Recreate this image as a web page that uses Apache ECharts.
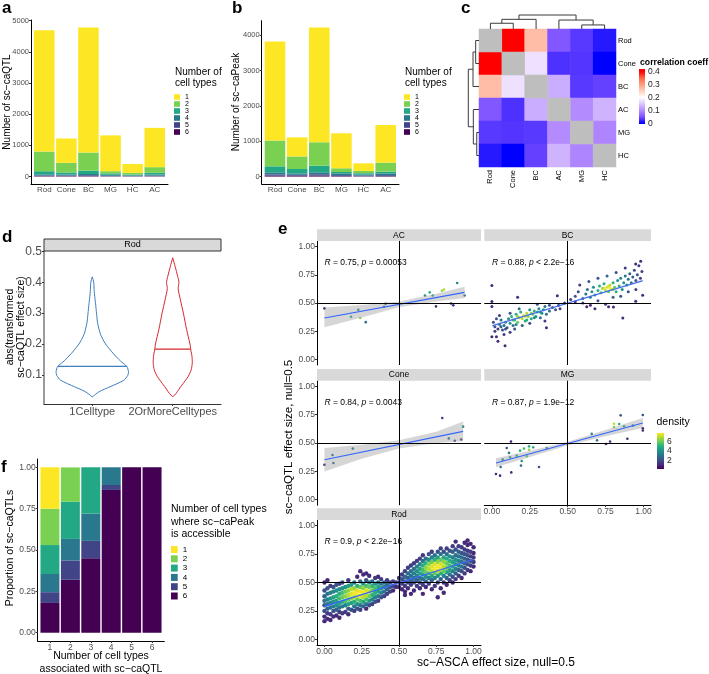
<!DOCTYPE html>
<html><head><meta charset="utf-8"><title>chart</title>
<script src="https://cdn.jsdelivr.net/npm/echarts@6.0.0/dist/echarts.min.js"></script>
<style>html,body{margin:0;padding:0;background:#fff;}#chart{width:709px;height:674px;}</style>
</head><body><div id="chart"></div>
<script>
// ================= DATA =================
const cellTypesAB = ['Rod','Cone','BC','MG','HC','AC'];
const levels = ['1','2','3','4','5','6'];
const levelColors = ['#FDE725','#7AD151','#22A884','#2A788E','#414487','#440154'];
const caqtl1 = [3890, 780, 4010, 1150, 285, 1260];
const caqtl2 = [630, 310, 580, 70, 55, 180];
const caqtl3 = [100, 65, 110, 45, 25, 60];
const caqtl4 = [35, 30, 40, 30, 20, 30];
const caqtl5 = [20, 20, 25, 15, 10, 20];
const caqtl6 = [15, 15, 15, 10, 8, 10];
const capeak1 = [2800, 540, 3245, 990, 215, 1065];
const capeak2 = [730, 355, 660, 105, 65, 255];
const capeak3 = [170, 125, 190, 40, 35, 50];
const capeak4 = [60, 40, 55, 50, 30, 50];
const capeak5 = [30, 25, 35, 25, 20, 25];
const capeak6 = [30, 25, 30, 15, 10, 15];
const abTicksA = [0, 1000, 2000, 3000, 4000, 5000];
const abTicksB = [0, 1000, 2000, 3000, 4000];

const heatCols = ['Rod','Cone','BC','AC','MG','HC'];
const heatRows = ['Rod','Cone','BC','AC','MG','HC'];
const corrRod  = [null, 0.40, 0.27, 0.055, 0.035, 0.015];
const corrCone = [0.40, null, 0.175, 0.03, 0.033, 0.0];
const corrBC   = [0.27, 0.175, null, 0.13, 0.035, 0.04];
const corrAC   = [0.055, 0.03, 0.13, null, 0.10, 0.135];
const corrMG   = [0.035, 0.033, 0.035, 0.10, null, 0.095];
const corrHC   = [0.015, 0.0, 0.04, 0.135, 0.095, null];
const corrColors = ['#0000FF','#7E51FF','#B38BFF','#DBC4FF','#FFFFFF','#FFD0BF','#FF9E82','#FF6846','#FF0000'];
const naColor = '#BEBEBE';
const corrTicks = [0, 0.1, 0.2, 0.3, 0.4];
const colMerges = [[0,1,0.41],[-1,2,0.69],[4,5,0.29],[3,-3,0.64],[-2,-4,1.0]];
const rowMerges = [[0,1,0.31],[-1,2,0.56],[4,5,0.21],[3,-3,0.53],[-2,-4,1.0]];

const violinNames = ['1Celltype','2OrMoreCelltypes'];
const violin1 = [[0.028,0],[0.045,7],[0.061,18],[0.082,32],[0.098,36],[0.11,36.7],[0.127,35],[0.145,28.5],[0.17,21],[0.2,13.5],[0.23,8.5],[0.267,5.5],[0.3,4.3],[0.32,3.7],[0.34,3],[0.37,2],[0.4,1.5],[0.418,0]];
const violin2 = [[0.028,0],[0.04,3.5],[0.062,8.3],[0.08,12.5],[0.095,15.8],[0.116,18.7],[0.138,19.8],[0.16,19.5],[0.181,18.3],[0.2,17.5],[0.248,14],[0.3,10.8],[0.343,7.8],[0.38,5.5],[0.4,6.3],[0.42,5],[0.451,2.5],[0.48,0]];
const violinMedians = [0.127, 0.183];
const violinColors = ['#3D7EBD','#D5282C'];
const dTicks = [0.1, 0.2, 0.3, 0.4, 0.5];

const acPoints = [[0.0,0.452,1],[0.178,0.378,5],[0.227,0.44,4],[0.24,0.367,6.5],[0.277,0.33,3],[0.40,0.467,3.5],[0.41,0.494,1.5],[0.674,0.567,4],[0.706,0.594,5],[0.726,0.567,4.5],[0.748,0.47,1],[0.788,0.609,6.5],[0.802,0.62,7],[0.849,0.496,1],[0.864,0.479,1],[0.89,0.677,3.5],[0.94,0.567,3]];
const conePoints = [[0.0,0.308,1],[0.054,0.394,3],[0.06,0.323,3],[0.19,0.45,3],[0.79,0.72,1.5],[0.834,0.54,3],[0.874,0.52,2],[0.917,0.53,1.5],[0.93,0.644,4]];
const mgPoints = [[0.027,0.226,1],[0.054,0.211,1],[0.058,0.288,3],[0.071,0.353,3.5],[0.098,0.456,2],[0.113,0.412,3.5],[0.12,0.373,4.5],[0.126,0.512,1],[0.128,0.24,1],[0.164,0.388,5],[0.186,0.432,5],[0.197,0.341,4],[0.192,0.3,3],[0.212,0.45,5.5],[0.23,0.382,6],[0.245,0.47,5],[0.245,0.44,6.5],[0.273,0.461,5],[0.311,0.288,2],[0.362,0.456,4],[0.659,0.58,3.5],[0.694,0.523,3],[0.753,0.491,1],[0.78,0.512,1.5],[0.806,0.67,7],[0.806,0.64,6.5],[0.84,0.668,5],[0.85,0.744,2],[0.872,0.647,5],[0.894,0.537,1],[0.93,0.653,4],[0.996,0.747,2],[0.996,0.629,1],[0.996,0.61,1]];
const bcPoints = [[0.01,0.33,2],[0.02,0.29,2],[0.03,0.36,2],[0.04,0.27,1.5],[0.05,0.31,3],[0.06,0.35,3],[0.07,0.26,2],[0.08,0.30,3],[0.09,0.33,4],[0.10,0.28,2],[0.11,0.36,4],[0.12,0.32,4],[0.13,0.38,5],[0.14,0.30,3],[0.15,0.35,5],[0.16,0.40,5],[0.17,0.33,6],[0.18,0.37,7],[0.19,0.42,5],[0.20,0.36,7],[0.21,0.39,7.5],[0.22,0.34,5],[0.23,0.41,7],[0.24,0.38,6.5],[0.25,0.44,4],[0.26,0.36,5],[0.27,0.40,6],[0.28,0.43,5],[0.29,0.38,4],[0.30,0.42,5],[0.31,0.45,4],[0.32,0.37,3],[0.33,0.41,4],[0.34,0.44,4],[0.35,0.47,3],[0.36,0.40,3],[0.38,0.43,3],[0.40,0.46,2.5],[0.42,0.44,2],[0.44,0.48,2],[0.08,0.22,1.5],[0.12,0.24,1.5],[0.15,0.27,2],[0.20,0.30,2.5],[0.25,0.32,2],[0.30,0.49,2],[0.18,0.45,3],[0.12,0.41,2],[0.05,0.39,1.5],[0.35,0.34,1.5],[0.14,0.35,5.5],[0.17,0.38,6.5],[0.22,0.38,7.5],[0.26,0.41,6.5],[0.02,0.25,1.5],[0.06,0.29,2.5],[0.09,0.27,2],[0.16,0.31,3.5],[0.23,0.35,5],[0.28,0.37,4],[0.32,0.42,4],[0.38,0.48,2],[0.45,0.45,1.5],[0.48,0.5,1.5],[0.03,0.2,1],
 [0.0,0.656,1],[0.0,0.514,1],[0.0,0.47,1],[0.0,0.2,1],[0.04,0.16,1],[0.087,0.12,1],[0.17,0.55,1],[0.432,0.565,1],[0.36,0.28,1],
 [0.52,0.53,1.5],[0.55,0.56,2],[0.57,0.6,2],[0.6,0.54,2.5],[0.62,0.58,3],[0.63,0.62,3],[0.65,0.55,3.5],[0.66,0.6,4],[0.67,0.64,4],[0.68,0.57,4.5],[0.7,0.61,5],[0.71,0.65,5],[0.72,0.59,5.5],[0.73,0.63,6.5],[0.74,0.67,5],[0.75,0.61,7],[0.76,0.64,7.5],[0.77,0.6,6],[0.78,0.66,7],[0.79,0.62,7],[0.8,0.68,5],[0.81,0.64,6],[0.82,0.6,5],[0.83,0.7,4],[0.84,0.65,5],[0.85,0.72,3.5],[0.86,0.62,4],[0.87,0.68,4],[0.88,0.74,3],[0.89,0.66,3.5],[0.9,0.71,3],[0.91,0.76,2.5],[0.92,0.68,3],[0.93,0.73,2.5],[0.94,0.79,2],[0.95,0.7,2],[0.96,0.75,2],[0.97,0.83,1.5],[0.98,0.72,1.5],[0.99,0.78,1.5],[0.6,0.5,1.5],[0.65,0.48,1],[0.7,0.52,2],[0.75,0.49,1.5],[0.8,0.55,2.5],[0.85,0.56,2],[0.9,0.6,2],[0.95,0.62,1.5],[0.58,0.66,1.5],[0.64,0.69,2],[0.7,0.72,2],[0.76,0.74,2.5],[0.82,0.77,2],[0.88,0.81,1.5],[0.74,0.63,7.5],[0.78,0.63,7.8],[0.77,0.65,7.5],[0.8,0.62,6.5],
 [0.626,0.467,1],[0.68,0.45,1],[0.77,0.467,1],[0.802,0.464,1],[0.864,0.367,1],[0.949,0.515,1],[0.995,0.568,1],[0.982,0.87,1],[0.949,0.846,1],[0.55,0.51,1]];
const rodColumns = [
 [0.00,[0.16,1,0.20,1,0.25,2,0.30,2.5,0.34,3,0.38,2.5,0.43,2,0.50,1]],
 [0.02,[0.18,1,0.23,1.5,0.27,2.5,0.31,3,0.35,3.5,0.40,3,0.45,2,0.52,1]],
 [0.04,[0.17,1,0.22,1.5,0.28,3,0.32,3.5,0.36,4,0.41,3.5,0.47,1.5]],
 [0.06,[0.20,1,0.25,2,0.29,3.5,0.33,4,0.37,4.5,0.42,3.5,0.46,2]],
 [0.08,[0.21,1,0.26,2.5,0.30,4,0.34,4.5,0.38,5,0.43,4,0.48,2]],
 [0.10,[0.19,1,0.24,1.5,0.28,3,0.32,4.5,0.36,5.5,0.40,5,0.44,4,0.49,1.5]],
 [0.12,[0.23,1.5,0.29,3.5,0.33,5,0.37,6,0.41,5.5,0.45,4,0.50,2]],
 [0.14,[0.24,1.5,0.30,3.5,0.34,5.5,0.38,6.5,0.42,6,0.46,4]],
 [0.16,[0.22,1,0.27,2.5,0.31,4.5,0.35,6,0.39,7,0.43,6.5,0.47,4.5,0.52,1.5]],
 [0.18,[0.26,2,0.32,4.5,0.36,6.5,0.40,7.5,0.44,7,0.48,4.5]],
 [0.20,[0.25,1.5,0.29,3,0.33,5,0.37,7,0.41,7.8,0.45,6.5,0.50,3]],
 [0.22,[0.27,2,0.31,4,0.35,6,0.39,7.8,0.43,7.5,0.47,5,0.55,1]],
 [0.24,[0.26,1.5,0.30,3,0.34,5.5,0.38,7.5,0.42,7.8,0.46,6,0.51,2.5,0.60,1]],
 [0.26,[0.29,2.5,0.33,4.5,0.37,7,0.41,7.8,0.45,6.5,0.49,4,0.57,1]],
 [0.28,[0.27,1,0.31,3,0.35,5.5,0.39,7,0.43,7.5,0.47,5.5,0.52,2,0.58,1]],
 [0.30,[0.30,2,0.34,4,0.38,6,0.42,7,0.46,6,0.50,3.5,0.56,1]],
 [0.32,[0.31,1.5,0.35,3.5,0.39,5,0.43,6,0.47,5,0.51,2.5]],
 [0.34,[0.33,2,0.37,3.5,0.41,5,0.45,5.5,0.49,4,0.54,1.5]],
 [0.36,[0.34,1.5,0.38,3,0.42,4.5,0.46,4.5,0.50,3,0.55,1]],
 [0.38,[0.37,2,0.41,3.5,0.45,4,0.49,3,0.53,1.5]],
 [0.40,[0.38,1.5,0.42,3,0.46,3.5,0.50,2.5]],
 [0.42,[0.40,1.5,0.44,2.5,0.48,3,0.52,1.5]],
 [0.44,[0.42,1.5,0.46,2,0.50,2]],
 [0.46,[0.43,1,0.47,1.5,0.51,1.5]],
 [0.48,[0.46,1,0.50,1.5]],
 [0.50,[0.46,1,0.50,1.5,0.54,1.5]],
 [0.52,[0.44,1,0.49,1.5,0.53,2,0.57,1.5]],
 [0.54,[0.39,1,0.42,1,0.47,1.5,0.51,2,0.55,2.5,0.60,1.5]],
 [0.56,[0.45,1,0.50,2,0.54,2.5,0.58,3,0.63,1.5]],
 [0.58,[0.40,1,0.48,1.5,0.52,2.5,0.56,3,0.60,3,0.65,1.5]],
 [0.60,[0.43,1,0.50,2,0.54,3,0.58,3.5,0.62,3,0.67,1.5]],
 [0.62,[0.47,1.5,0.52,2.5,0.56,3.5,0.60,4,0.64,3.5,0.69,1.5]],
 [0.64,[0.45,1,0.50,2,0.54,3,0.58,4.5,0.62,4.5,0.66,3.5,0.71,1.5]],
 [0.66,[0.40,1,0.48,1.5,0.53,3,0.57,4.5,0.61,5.5,0.65,5,0.69,3,0.74,1.5]],
 [0.68,[0.46,1,0.51,2.5,0.55,4,0.59,6,0.63,6.5,0.67,5,0.71,3]],
 [0.70,[0.49,1.5,0.54,3.5,0.58,5.5,0.62,7,0.66,6.5,0.70,4,0.75,2]],
 [0.72,[0.44,1,0.52,2.5,0.56,4.5,0.60,7,0.64,7.5,0.68,6,0.72,3.5,0.77,1.5]],
 [0.74,[0.47,1.5,0.54,3.5,0.58,6,0.62,7.8,0.66,7.5,0.70,5,0.74,3]],
 [0.76,[0.37,1,0.50,1.5,0.56,4,0.60,7,0.64,7.8,0.68,6.5,0.72,4.5,0.77,2]],
 [0.78,[0.45,1,0.53,2.5,0.58,5,0.62,7.5,0.66,7.5,0.70,6,0.75,3,0.80,1.5]],
 [0.80,[0.41,1,0.50,1.5,0.56,3.5,0.60,6,0.64,7,0.68,6.5,0.72,4.5,0.77,2]],
 [0.82,[0.48,1,0.54,2.5,0.59,4.5,0.63,6,0.67,6,0.71,5,0.75,3,0.80,1.5]],
 [0.84,[0.52,1.5,0.57,3,0.61,4.5,0.65,5.5,0.69,5,0.73,4,0.78,2]],
 [0.86,[0.50,1,0.55,2,0.60,3.5,0.64,4.5,0.68,4.5,0.72,3.5,0.77,2.5,0.82,1.5]],
 [0.88,[0.53,1.5,0.58,2.5,0.62,3.5,0.66,4,0.70,4,0.74,3,0.79,2,0.86,1]],
 [0.90,[0.56,1.5,0.61,2.5,0.65,3.5,0.69,3.5,0.73,3,0.77,2.5,0.82,1.5]],
 [0.92,[0.54,1,0.60,2,0.64,3,0.68,3,0.72,3,0.76,2,0.81,1.5]],
 [0.94,[0.58,1.5,0.63,2,0.67,2.5,0.71,2.5,0.75,2,0.79,1.5,0.85,1]],
 [0.96,[0.61,1.5,0.66,2,0.70,2,0.74,2,0.78,1.5,0.83,1,0.87,1]],
 [0.98,[0.60,1,0.65,1.5,0.69,2,0.73,1.5,0.77,1.5,0.84,1]],
 [1.00,[0.64,1,0.68,1.5,0.72,1.5,0.76,1,0.81,1]]
];
const acFit = [[0.0,0.367],[0.94,0.594]];
const acBand = [[0.0,0.285,0.46],[0.25,0.372,0.482],[0.5,0.462,0.513],[0.75,0.513,0.583],[0.94,0.544,0.644]];
const bcFit = [[0.003,0.299],[0.995,0.698]];
const bcBand = [[0.003,0.289,0.309],[0.5,0.494,0.504],[0.995,0.688,0.708]];
const coneFit = [[0.0,0.352],[0.93,0.602]];
const coneBand = [[0.0,0.247,0.456],[0.25,0.36,0.485],[0.5,0.452,0.523],[0.75,0.5,0.6],[0.93,0.514,0.69]];
const mgFit = [[0.027,0.323],[0.996,0.677]];
const mgBand = [[0.027,0.285,0.365],[0.25,0.376,0.432],[0.5,0.478,0.51],[0.75,0.56,0.614],[0.996,0.633,0.72]];
const rodFit = [[0.0,0.29],[0.998,0.703]];
const rodBand = [[0.0,0.284,0.296],[0.5,0.495,0.499],[0.998,0.697,0.709]];
const corrR = {AC:'0.75', BC:'0.88', Cone:'0.84', MG:'0.87', Rod:'0.9'};
const corrP = {AC:'= 0.00053', BC:'< 2.2e\u221216', Cone:'= 0.0043', MG:'= 1.9e\u221212', Rod:'< 2.2e\u221216'};
const eTicks = [0, 0.25, 0.5, 0.75, 1];
const nullValue = 0.5;
const viridis = ['#440154','#472D7B','#3B528B','#2C728E','#21918C','#28AE80','#5EC962','#ADDC30','#FDE725'];
const densityTicks = [2, 4, 6];

const fCats = ['1','2','3','4','5','6'];
const prop1 = [0.25, 0, 0, 0, 0, 0];
const prop2 = [0.22, 0.207, 0, 0, 0, 0];
const prop3 = [0.175, 0.225, 0.28, 0, 0, 0];
const prop4 = [0.11, 0.13, 0.165, 0.107, 0, 0];
const prop5 = [0.065, 0.117, 0.105, 0.03, 0, 0];
const prop6 = [0.18, 0.32, 0.45, 0.863, 1, 1];
const fTicks = [0, 0.25, 0.5, 0.75, 1];

// ================= BUILD =================
const FONT = '"Liberation Sans", Arial, Helvetica, sans-serif';
const LBL = '#4D4D4D';

const grids = [
  {left:31, top:20, width:137, height:164},
  {left:261.7, top:20.7, width:137.3, height:163.3},
  {left:479, top:29, width:137, height:138},
  {left:479, top:15, width:137, height:14},
  {left:468.3, top:29, width:10.7, height:138},
  {left:639, top:69, width:6, height:55},
  {left:44, top:251, width:177, height:153},
  {left:317, top:241, width:164, height:124},
  {left:484.3, top:241, width:166.7, height:124},
  {left:317, top:380.7, width:164, height:124.5},
  {left:484.3, top:380.7, width:166.7, height:124.5},
  {left:317, top:520, width:164, height:125},
  {left:657, top:433, width:7, height:36},
  {left:37.7, top:459, width:126.6, height:182}
].map(g => Object.assign({containLabel:false, outerBoundsMode:'none'}, g));

function ax(gi, min, max, ticks, fmt, o) {
  o = o || {};
  const show = !!(ticks && ticks.length);
  const a = {
    type:'value', gridIndex:gi, min:min, max:max,
    splitLine:{show:false},
    axisLine:{show: o.line != null ? o.line : show, onZero:false, lineStyle:{color:o.lineColor||'#000', width:o.lineWidth||1}},
    axisTick:{show: o.ticks != null ? o.ticks : show, customValues: ticks||[], length:o.tickLen||2, inside: !!o.inside, lineStyle:{color:o.tickColor||'#333', width:1}},
    axisLabel:{show: o.labels != null ? o.labels : show, customValues: ticks||[], formatter: fmt, fontSize:o.fs||7.5, color:o.color||LBL, margin:o.margin==null?2:o.margin, fontFamily:FONT},
    inverse: !!o.inverse
  };
  if (o.position) a.position = o.position;
  return a;
}
const fmtInt = v => String(Math.round(v));
const fmt2 = v => v.toFixed(2);
const fmt1 = v => (Math.abs(v) < 1e-9 ? '0' : String(+v.toFixed(1)));

const xAxes = [], yAxes = [];
xAxes.push(ax(0, 0.4, 6.6, [1,2,3,4,5,6], v => cellTypesAB[Math.round(v)-1], {fs:8, margin:2}));
yAxes.push(ax(0, -240, 5020, abTicksA, fmtInt, {fs:7.5}));
xAxes.push(ax(1, 0.4, 6.6, [1,2,3,4,5,6], v => cellTypesAB[Math.round(v)-1], {fs:8, margin:2}));
yAxes.push(ax(1, -210, 4410, abTicksB, fmtInt, {fs:7.5}));
xAxes.push({type:'category', gridIndex:2, data:heatCols, axisLine:{show:false}, axisTick:{show:false}, splitLine:{show:false},
  axisLabel:{rotate:90, fontSize:7.5, color:'#000', margin:3, fontFamily:FONT}});
yAxes.push({type:'category', gridIndex:2, data:heatRows, inverse:true, position:'right', axisLine:{show:false}, axisTick:{show:false}, splitLine:{show:false},
  axisLabel:{fontSize:7.5, color:'#000', margin:2, fontFamily:FONT}});
xAxes.push(ax(3, -0.5, 5.5, [], null));
yAxes.push(ax(3, 0, 1, [], null));
xAxes.push(ax(4, 0, 1, [], null, {inverse:true}));
yAxes.push(ax(4, -0.5, 5.5, [], null, {inverse:true}));
xAxes.push(ax(5, 0, 1, [], null));
yAxes.push(ax(5, -0.005, 0.42, corrTicks, fmt1, {position:'right', line:false, inside:true, tickColor:'#fff', tickLen:1.5, fs:8.5, color:'#222', margin:3}));
xAxes.push(ax(6, 0.4, 2.6, [1,2], v => violinNames[Math.round(v)-1], {fs:11, margin:2, lineColor:'#333'}));
yAxes.push(ax(6, 0.005, 0.502, dTicks, fmt1, {fs:12, margin:2, lineColor:'#7a7a7a', lineWidth:1.5}));
const facetAxes = [
  {gi:7,  xl:false, yl:true},
  {gi:8,  xl:false, yl:false},
  {gi:9,  xl:false, yl:true},
  {gi:10, xl:true,  yl:false},
  {gi:11, xl:true,  yl:true}
];
facetAxes.forEach(f => {
  xAxes.push(ax(f.gi, -0.05, 1.05, f.xl ? eTicks : [], fmt2, {fs:8.5, margin:2}));
  yAxes.push(ax(f.gi, -0.05, 1.05, f.yl ? eTicks : [], fmt2, {fs:8.5, margin:2}));
});
xAxes.push(ax(12, 0, 1, [], null));
yAxes.push(ax(12, 0.1, 7.9, densityTicks, fmtInt, {position:'right', line:false, inside:true, tickColor:'#fff', tickLen:1.5, fs:8.5, color:'#222', margin:3}));
xAxes.push(ax(13, 0.4, 6.6, [1,2,3,4,5,6], v => fCats[Math.round(v)-1], {fs:8.5, margin:2}));
yAxes.push(ax(13, -0.05, 1.05, fTicks, fmt2, {fs:8.5, margin:2}));

const series = [];
function barRender(frac) {
  return function (params, api) {
    const x = api.value(0), y0 = api.value(1), y1 = api.value(2);
    const a = api.coord([x, y0]), b = api.coord([x, y1]);
    const w = api.size([frac, 0])[0];
    return {type:'rect', shape:{x:a[0]-w/2, y:b[1], width:w, height:Math.max(0, a[1]-b[1])}, style:{fill: api.visual('color')}};
  };
}
function addStack(levelArrays, gi, frac) {
  const n = levelArrays[0].length;
  const cum = new Array(n).fill(0);
  for (let li = levelArrays.length - 1; li >= 0; li--) {
    const data = levelArrays[li].map((v, i) => { const y0 = cum[i]; cum[i] += v; return [i+1, y0, cum[i]]; });
    series.push({type:'custom', name:levels[li], xAxisIndex:gi, yAxisIndex:gi, itemStyle:{color:levelColors[li]},
      encode:{x:0, y:[1,2]}, renderItem:barRender(frac), data:data, silent:true});
  }
}
addStack([caqtl1,caqtl2,caqtl3,caqtl4,caqtl5,caqtl6], 0, 0.93);
addStack([capeak1,capeak2,capeak3,capeak4,capeak5,capeak6], 1, 0.93);
addStack([prop1,prop2,prop3,prop4,prop5,prop6], 13, 0.93);

// heatmap: off-diagonal values coloured by the scale, NA cells grey
const corrMatrix = [corrRod, corrCone, corrBC, corrAC, corrMG, corrHC];
const heatData = [], naData = [];
corrMatrix.forEach((row, ri) => row.forEach((v, ci) => { if (v == null) naData.push([ci, ri, 0]); else heatData.push([ci, ri, v]); }));
const heatIdx = series.length;
series.push({type:'heatmap', xAxisIndex:2, yAxisIndex:2, data:heatData, silent:true, itemStyle:{borderWidth:0}});
const naIdx = series.length;
series.push({type:'heatmap', xAxisIndex:2, yAxisIndex:2, data:naData, silent:true, itemStyle:{borderWidth:0}});

function dendroSegs(merges, swap) {
  const nodes = [], segs = [];
  const get = r => r >= 0 ? {p:r, h:0} : nodes[-r-1];
  merges.forEach(m => {
    const A = get(m[0]), B = get(m[1]), h = m[2];
    [[A.p, A.h, A.p, h], [B.p, B.h, B.p, h], [A.p, h, B.p, h]].forEach(q => segs.push(swap ? [q[1], q[0], q[3], q[2]] : q));
    nodes.push({p:(A.p + B.p) / 2, h:h});
  });
  return segs;
}
function segRender(params, api) {
  const p1 = api.coord([api.value(0), api.value(1)]);
  const p2 = api.coord([api.value(2), api.value(3)]);
  return {type:'line', shape:{x1:p1[0], y1:p1[1], x2:p2[0], y2:p2[1]}, style:{stroke:'#3a3a3a', lineWidth:1}};
}
series.push({type:'custom', xAxisIndex:3, yAxisIndex:3, data:dendroSegs(colMerges, false), encode:{x:[0,2], y:[1,3]}, renderItem:segRender, silent:true});
series.push({type:'custom', xAxisIndex:4, yAxisIndex:4, data:dendroSegs(rowMerges, true), encode:{x:[0,2], y:[1,3]}, renderItem:segRender, silent:true});

function gradientBar(gi, yMin, yMax, stops) {
  return {type:'custom', xAxisIndex:gi, yAxisIndex:gi, silent:true, data:[[0]], z:1,
    renderItem: (params, api) => {
      const a = api.coord([0, yMin]), b = api.coord([1, yMax]);
      return {type:'rect', shape:{x:a[0], y:b[1], width:b[0]-a[0], height:a[1]-b[1]},
        style:{fill:new echarts.graphic.LinearGradient(0, 0, 0, 1, stops)}};
    }};
}
const corrMin = -0.005, corrMax = 0.42, corrTop = 0.4;
const corrStops = [{offset:0, color:corrColors[corrColors.length-1]}];
corrColors.slice().reverse().forEach((c, i) => {
  const v = corrTop - i * corrTop / (corrColors.length - 1);
  corrStops.push({offset:(corrMax - v) / (corrMax - corrMin), color:c});
});
corrStops.push({offset:1, color:corrColors[0]});
series.push(gradientBar(5, corrMin, corrMax, corrStops));
const densStops = viridis.slice().reverse().map((c, i, arr) => ({offset:i/(arr.length-1), color:c}));
series.push(gradientBar(12, 0.1, 7.9, densStops));

const violinProfiles = [violin1, violin2];
const maxDens = Math.max(...violinProfiles.map(p => Math.max(...p.map(r => r[1]))));
series.push({type:'custom', xAxisIndex:6, yAxisIndex:6, silent:true, data:[[1],[2]], encode:{x:0},
  renderItem: (params, api) => {
    const i = params.dataIndex, x = api.value(0), prof = violinProfiles[i];
    const k = 0.45 * api.size([1, 0])[0] / maxDens;
    const right = prof.map(r => { const c = api.coord([x, r[0]]); return [c[0] + r[1]*k, c[1]]; });
    const left = prof.slice().reverse().map(r => { const c = api.coord([x, r[0]]); return [c[0] - r[1]*k, c[1]]; });
    const med = violinMedians[i]; let dm = 0;
    for (let j = 0; j < prof.length - 1; j++) {
      const y0 = prof[j][0], y1 = prof[j+1][0];
      if (med >= y0 && med <= y1) { dm = prof[j][1] + (prof[j+1][1] - prof[j][1]) * (med - y0) / (y1 - y0); break; }
    }
    const cm = api.coord([x, med]);
    return {type:'group', children:[
      {type:'polygon', shape:{points:right.concat(left), smooth:0.25}, style:{fill:'none', stroke:violinColors[i], lineWidth:1}},
      {type:'line', shape:{x1:cm[0]-dm*k, y1:cm[1], x2:cm[0]+dm*k, y2:cm[1]}, style:{stroke:violinColors[i], lineWidth:1.2}}
    ]};
  }});

const rodPoints = [];
rodColumns.forEach(col => { for (let j = 0; j < col[1].length; j += 2) rodPoints.push([col[0], col[1][j], col[1][j+1]]); });
const facets = [
  {name:'AC',   gi:7,  pts:acPoints,   fit:acFit,   band:acBand,   size:2.6},
  {name:'BC',   gi:8,  pts:bcPoints,   fit:bcFit,   band:bcBand,   size:3},
  {name:'Cone', gi:9,  pts:conePoints, fit:coneFit, band:coneBand, size:2.6},
  {name:'MG',   gi:10, pts:mgPoints,   fit:mgFit,   band:mgBand,   size:2.6},
  {name:'Rod',  gi:11, pts:rodPoints,  fit:rodFit,  band:rodBand,  size:4.4}
];
const scatterIdx = [];
facets.forEach(f => {
  scatterIdx.push(series.length);
  series.push({type:'scatter', xAxisIndex:f.gi, yAxisIndex:f.gi, silent:true, symbolSize:f.size, z:2,
    data:f.pts.slice().sort((a, b) => a[2] - b[2]), itemStyle:{opacity:1}});
  series.push({type:'custom', xAxisIndex:f.gi, yAxisIndex:f.gi, silent:true, z:3, data:f.band, encode:{x:0, y:[1,2]},
    renderItem: (params, api) => {
      if (params.dataIndex !== 0) return null;
      const up = f.band.map(r => api.coord([r[0], r[2]]));
      const lo = f.band.slice().reverse().map(r => api.coord([r[0], r[1]]));
      return {type:'polygon', shape:{points:up.concat(lo)}, style:{fill:'rgba(153,153,153,0.4)'}};
    }});
  series.push({type:'line', xAxisIndex:f.gi, yAxisIndex:f.gi, silent:true, z:4, data:f.fit, symbol:'none',
    lineStyle:{color:'#3366FF', width:1.1},
    markLine:{silent:true, symbol:'none', label:{show:false}, animation:false,
      lineStyle:{color:'#000', type:'solid', width:1}, data:[{yAxis:nullValue}, {xAxis:nullValue}]}});
  series.push({type:'custom', xAxisIndex:f.gi, yAxisIndex:f.gi, silent:true, z:6, data:[[0, 0.86]], encode:{x:0, y:1},
    renderItem: (params, api) => {
      const p = api.coord([api.value(0), api.value(1)]);
      return {type:'text', x:p[0], y:p[1], style:{text:'{i|R} = ' + corrR[f.name] + ', {i|p} ' + corrP[f.name],
        rich:{i:{fontStyle:'italic', fontSize:8.5, fontFamily:FONT, fill:'#000'}},
        fontSize:8.5, fontFamily:FONT, fill:'#000', align:'left', verticalAlign:'middle'}};
    }});
});

function T(text, x, y, o) {
  o = o || {};
  return {type:'text', x:x, y:y, rotation:o.rot || 0, silent:true, z:10,
    style:{text:text, fontSize:o.fs || 10, fontFamily:FONT, fontWeight:o.fw || 'normal', fill:o.fill || '#000',
      align:o.align || 'left', verticalAlign:o.va || 'middle', fontStyle:o.fst || 'normal'}};
}
function Rc(x, y, w, h, fill, stroke) {
  return {type:'rect', silent:true, z:1, shape:{x:x, y:y, width:w, height:h}, style:{fill:fill, stroke:stroke || null, lineWidth:stroke ? 1 : 0}};
}
const V = Math.PI / 2;
const graphics = [
  T('a', 2, 8, {fs:17, fw:'bold'}), T('b', 232, 8, {fs:17, fw:'bold'}), T('c', 461, 8, {fs:17, fw:'bold'}),
  T('d', 2, 237, {fs:17, fw:'bold'}), T('e', 278, 229, {fs:17, fw:'bold'}), T('f', 1, 467, {fs:17, fw:'bold'}),
  T('Number of sc\u2212caQTL', 7, 102, {rot:V, align:'center', fs:10}),
  T('Number of sc\u2212caPeak', 236, 102, {rot:V, align:'center', fs:10}),
  T('Number of', 175, 72.5, {fs:10}), T('cell types', 175, 83.5, {fs:10}),
  T('Number of', 405, 72.5, {fs:10}), T('cell types', 405, 83.5, {fs:10}),
  T('correlation coeff', 640, 63, {fs:8.7, fw:'bold'}),
  Rc(44, 239, 177, 12, '#D9D9D9', '#333'), T('Rod', 132.5, 245, {align:'center', fs:9}),
  T('abs(transformed', 10, 327, {rot:V, align:'center', fs:10.5}),
  T('sc\u2212caQTL effect size)', 21.5, 327, {rot:V, align:'center', fs:10.5}),
  Rc(317, 229.3, 164, 11.7, '#D9D9D9'), T('AC', 399, 235.2, {align:'center', fs:8.5}),
  Rc(484.3, 229.3, 166.7, 11.7, '#D9D9D9'), T('BC', 567.6, 235.2, {align:'center', fs:8.5}),
  Rc(317, 369, 164, 11.7, '#D9D9D9'), T('Cone', 399, 374.9, {align:'center', fs:8.5}),
  Rc(484.3, 369, 166.7, 11.7, '#D9D9D9'), T('MG', 567.6, 374.9, {align:'center', fs:8.5}),
  Rc(317, 508.3, 164, 11.7, '#D9D9D9'), T('Rod', 399, 514.2, {align:'center', fs:8.5}),
  T('sc\u2212caQTL effect size, null=0.5', 289, 437, {rot:V, align:'center', fs:11.5}),
  T('sc\u2212ASCA effect size, null=0.5', 496, 663, {align:'center', fs:12}),
  T('density', 656.5, 422.5, {fs:10.5}),
  T('Proportion of sc\u2212caQTLs', 10, 548, {rot:V, align:'center', fs:10.5}),
  T('Number of cell types', 101, 656.5, {align:'center', fs:10.5}),
  T('associated with sc\u2212caQTL', 101, 669, {align:'center', fs:10.5}),
  T('Number of cell types', 171, 509, {fs:10.5}),
  T('where sc\u2212caPeak', 171, 522, {fs:10.5}),
  T('is accessible', 171, 534, {fs:10.5})
];

const legendBase = {data:levels, orient:'vertical', icon:'rect', selectedMode:false, padding:0, itemGap:0,
  textStyle:{fontFamily:FONT, color:'#000'}};
const option = {
  animation:false,
  backgroundColor:'#fff',
  grid:grids, xAxis:xAxes, yAxis:yAxes, series:series,
  visualMap:[
    {type:'continuous', show:false, seriesIndex:heatIdx, min:0, max:0.4, inRange:{color:corrColors}},
    {type:'continuous', show:false, seriesIndex:naIdx, min:-1, max:1, inRange:{color:[naColor, naColor]}},
    {type:'continuous', show:false, seriesIndex:scatterIdx, dimension:2, min:0.1, max:7.9, inRange:{color:viridis}}
  ],
  legend:[
    Object.assign({}, legendBase, {left:174, top:93.5, itemWidth:6, itemHeight:5.6, textStyle:{fontFamily:FONT, color:'#000', fontSize:7, lineHeight:5.6}}),
    Object.assign({}, legendBase, {left:404, top:93.5, itemWidth:6, itemHeight:5.6, textStyle:{fontFamily:FONT, color:'#000', fontSize:7, lineHeight:5.6}}),
    Object.assign({}, legendBase, {left:171, top:545.5, itemWidth:6.7, itemHeight:7, itemGap:1.3, textStyle:{fontFamily:FONT, color:'#000', fontSize:8, lineHeight:7}})
  ],
  graphic:graphics
};
const chart = echarts.init(document.getElementById('chart'), null, {renderer:'canvas', width:709, height:674});
chart.setOption(option);
</script></body></html>
